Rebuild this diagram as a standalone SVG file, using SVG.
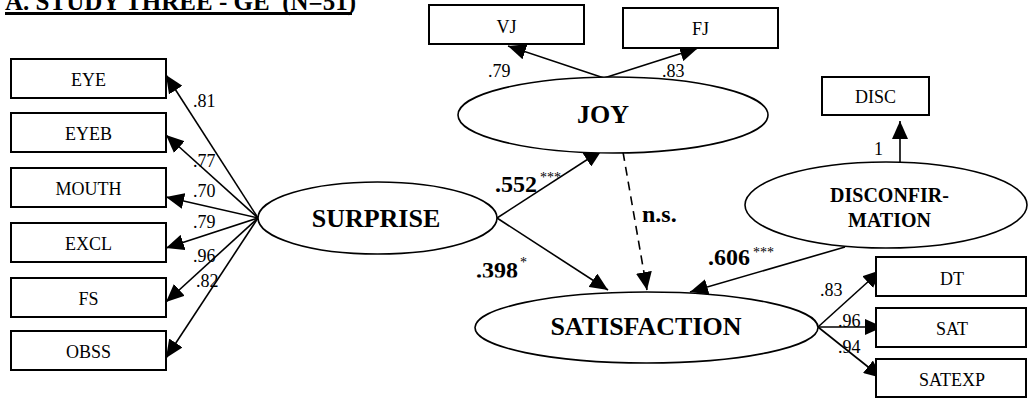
<svg xmlns="http://www.w3.org/2000/svg" width="1028" height="399" viewBox="0 0 1028 399">
<style>
text{font-family:"Liberation Serif","Times New Roman",serif;fill:#000}
.box{fill:#fff;stroke:#000;stroke-width:2}
.ell{fill:#fff;stroke:#000;stroke-width:1.6}
.bt{font-size:18px;text-anchor:middle}
.lt{font-size:18px}
.big{font-size:26px;font-weight:bold;text-anchor:middle}
.mid{font-size:20px;font-weight:bold;text-anchor:middle}
.coef{font-size:24px;font-weight:bold}
.sup{font-size:14px}
.ln{stroke:#000;stroke-width:1.6;fill:none;marker-end:url(#ah)}
.dash{stroke-dasharray:9,6}
</style>
<defs>
<marker id="ah" markerUnits="userSpaceOnUse" markerWidth="18" markerHeight="16" refX="18" refY="8" orient="auto">
<path d="M0,0 L18,8 L0,16 z" fill="#000"/>
</marker>
<clipPath id="cut398"><rect x="460" y="240" width="100" height="37.5"/></clipPath>
</defs>

<g id="title">
<text x="5" y="10" font-size="25" font-weight="bold" xml:space="preserve">A. STUDY THREE - GE  (N=51)</text>
<line x1="5" y1="13.5" x2="352" y2="13.5" stroke="#000" stroke-width="3"/>
</g>

<g id="connectors">
<line class="ln" x1="258" y1="218" x2="166" y2="75"/>
<line class="ln" x1="258" y1="218" x2="166" y2="135"/>
<line class="ln" x1="258" y1="218" x2="166" y2="197"/>
<line class="ln" x1="258" y1="218" x2="166" y2="248"/>
<line class="ln" x1="258" y1="218" x2="166" y2="302"/>
<line class="ln" x1="258" y1="218" x2="166" y2="358"/>
<line class="ln" x1="604" y1="78" x2="508" y2="46"/>
<line class="ln" x1="604" y1="78" x2="698" y2="48"/>
<line class="ln" x1="497" y1="218" x2="602" y2="150"/>
<line class="ln" x1="497" y1="218" x2="608" y2="290"/>
<line class="ln dash" x1="623" y1="152" x2="647" y2="290"/>
<line class="ln" x1="845" y1="247" x2="690" y2="292"/>
<line class="ln" x1="900" y1="162" x2="900" y2="121"/>
<line class="ln" x1="818" y1="327" x2="881" y2="270"/>
<line class="ln" x1="818" y1="327" x2="883" y2="327"/>
<line class="ln" x1="818" y1="327" x2="882" y2="378"/>
</g>

<g id="labels">
<text class="lt" x="193" y="107">.81</text>
<text class="lt" x="193" y="167">.77</text>
<text class="lt" x="193" y="197">.70</text>
<text class="lt" x="193" y="228">.79</text>
<text class="lt" x="193" y="262">.96</text>
<text class="lt" x="196" y="287">.82</text>
<text class="lt" x="488" y="77">.79</text>
<text class="lt" x="662" y="77">.83</text>
<text class="coef" x="495" y="192">.552</text>
<text class="sup" x="540" y="182">***</text>
<g clip-path="url(#cut398)"><text class="coef" x="476" y="278">.398</text></g>
<text class="sup" x="520" y="267">*</text>
<text class="coef" x="642" y="222">n.s.</text>
<text class="coef" x="708" y="265">.606</text>
<text class="sup" x="753" y="257">***</text>
<text class="lt" x="874" y="155" font-size="20">1</text>
<text class="lt" x="820" y="296">.83</text>
<text class="lt" x="838" y="327">.96</text>
<text class="lt" x="838" y="353">.94</text>
</g>

<g id="EYE"><rect class="box" x="11" y="59" width="155" height="39"/><text class="bt" x="88.5" y="86">EYE</text></g>
<g id="EYEB"><rect class="box" x="11" y="113" width="155" height="39"/><text class="bt" x="88.5" y="140">EYEB</text></g>
<g id="MOUTH"><rect class="box" x="11" y="168" width="155" height="39"/><text class="bt" x="88.5" y="195">MOUTH</text></g>
<g id="EXCL"><rect class="box" x="11" y="223" width="155" height="39"/><text class="bt" x="88.5" y="250">EXCL</text></g>
<g id="FS"><rect class="box" x="11" y="278" width="155" height="39"/><text class="bt" x="88.5" y="305">FS</text></g>
<g id="OBSS"><rect class="box" x="11" y="331" width="155" height="39"/><text class="bt" x="88.5" y="358">OBSS</text></g>

<g id="VJ"><rect class="box" x="429" y="5" width="155" height="39"/><text class="bt" x="506.5" y="33">VJ</text></g>
<g id="FJ"><rect class="box" x="623" y="8" width="155" height="40"/><text class="bt" x="700.5" y="35">FJ</text></g>
<g id="DISC"><rect class="box" x="822" y="77" width="107" height="38"/><text class="bt" x="875.5" y="103">DISC</text></g>
<g id="DT"><rect class="box" x="876" y="257" width="150" height="39"/><text class="bt" x="952" y="285">DT</text></g>
<g id="SAT"><rect class="box" x="876" y="308" width="150" height="39"/><text class="bt" x="952" y="335">SAT</text></g>
<g id="SATEXP"><rect class="box" x="876" y="359" width="150" height="38"/><text class="bt" x="952" y="386">SATEXP</text></g>

<g id="SURPRISE"><ellipse class="ell" cx="377.5" cy="218" rx="119.5" ry="36"/><text class="big" x="376" y="227">SURPRISE</text></g>
<g id="JOY"><ellipse class="ell" cx="613" cy="115" rx="155" ry="38"/><text class="big" x="603" y="123">JOY</text></g>
<g id="SATISFACTION"><ellipse class="ell" cx="646.5" cy="327.5" rx="171.5" ry="35.5"/><text class="big" x="646" y="335">SATISFACTION</text></g>
<g id="DISCONFIRMATION"><ellipse class="ell" cx="886" cy="205" rx="141" ry="43"/><text class="mid" x="889.5" y="202">DISCONFIR-</text><text class="mid" x="889.5" y="227">MATION</text></g>
</svg>
